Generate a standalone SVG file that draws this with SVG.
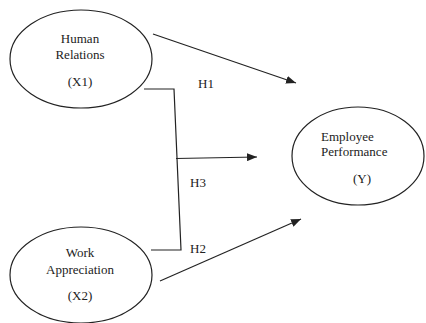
<svg xmlns="http://www.w3.org/2000/svg" width="426" height="323" viewBox="0 0 426 323">
<style>
.n{fill:#fff;stroke:#222;stroke-width:1.2}
.t{font-family:"Liberation Serif",serif;font-size:13px;fill:#222}
.c{fill:none;stroke:#222;stroke-width:1.2}
</style>
<defs>
<marker id="ah" viewBox="0 0 10 8" refX="10" refY="4" markerWidth="10" markerHeight="8" markerUnits="userSpaceOnUse" orient="auto">
<path d="M0,0 L10,4 L0,8 z" fill="#222"/>
</marker>
</defs>
<rect width="426" height="323" fill="#fff"/>
<g id="connectors">
<line class="c" x1="153" y1="34" x2="296" y2="83" marker-end="url(#ah)"/>
<polyline class="c" points="144,89 174,89 181,250 151,250"/>
<line class="c" x1="176" y1="158.5" x2="257" y2="157" marker-end="url(#ah)"/>
<line class="c" x1="160" y1="281" x2="301" y2="219" marker-end="url(#ah)"/>
</g>
<g id="labels">
<text class="t" x="198" y="88">H1</text>
<text class="t" x="190" y="187">H3</text>
<text class="t" x="190" y="253">H2</text>
</g>
<g id="human-relations">
<ellipse class="n" cx="81" cy="59" rx="71" ry="49"/>
<text class="t" x="80" y="43" text-anchor="middle">Human</text>
<text class="t" x="80" y="59" text-anchor="middle">Relations</text>
<text class="t" x="80" y="86" text-anchor="middle">(X1)</text>
</g>
<g id="work-appreciation">
<ellipse class="n" cx="81" cy="275" rx="71" ry="48"/>
<text class="t" x="80" y="257" text-anchor="middle">Work</text>
<text class="t" x="80" y="274" text-anchor="middle">Appreciation</text>
<text class="t" x="80" y="300" text-anchor="middle">(X2)</text>
</g>
<g id="employee-performance">
<ellipse class="n" cx="358" cy="156" rx="66" ry="49"/>
<text class="t" x="321" y="141">Employee</text>
<text class="t" x="321" y="156">Performance</text>
<text class="t" x="362" y="183" text-anchor="middle">(Y)</text>
</g>
</svg>
